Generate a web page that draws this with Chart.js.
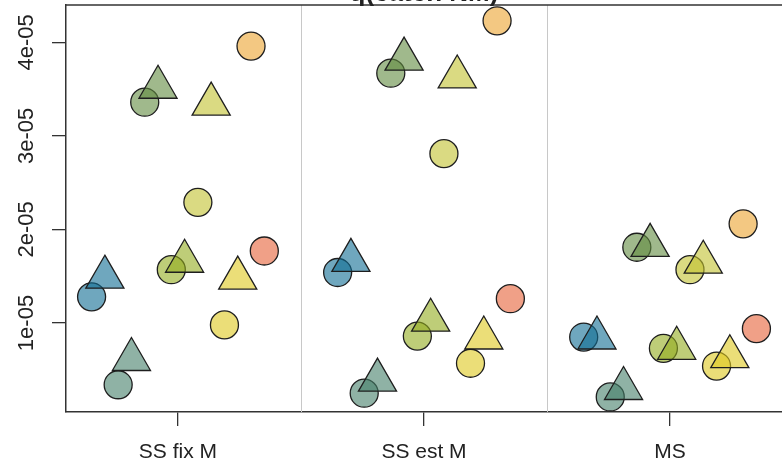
<!DOCTYPE html>
<html>
<head>
<meta charset="utf-8">
<script src="https://cdn.jsdelivr.net/npm/chart.js@4/dist/chart.umd.min.js"></script>
<style>
  html, body { margin: 0; padding: 0; background: #fff; }
  #wrap { width: 782px; height: 469px; }
</style>
</head>
<body>
<div id="wrap"><canvas id="chart" width="782" height="469"></canvas></div>
<script>
// categories and tick labels
const groups = ["SS fix M", "SS est M", "MS"];
const yTicks = [1e-5, 2e-5, 3e-5, 4e-5];
const yTickLabels = ["1e-05", "2e-05", "3e-05", "4e-05"];
const titleText = "q(catch NM)";

// values per group (SS fix M, SS est M, MS)
const blueCircle     = [1.28e-5, 1.54e-5, 0.85e-5];
const blueTriangle   = [1.49e-5, 1.67e-5, 0.84e-5];
const tealCircle     = [0.34e-5, 0.25e-5, 0.21e-5];
const tealTriangle   = [0.61e-5, 0.39e-5, 0.30e-5];
const greenCircle    = [3.36e-5, 3.67e-5, 1.81e-5];
const greenTriangle  = [3.52e-5, 3.82e-5, 1.83e-5];
const oliveCircle    = [1.57e-5, 0.86e-5, 0.73e-5];
const oliveTriangle  = [1.66e-5, 1.03e-5, 0.73e-5];
const limeCircle     = [2.29e-5, 2.81e-5, 1.57e-5];
const limeTriangle   = [3.34e-5, 3.63e-5, 1.65e-5];
const yellowCircle   = [0.98e-5, 0.57e-5, 0.54e-5];
const yellowTriangle = [1.48e-5, 0.84e-5, 0.64e-5];
const orangeCircle   = [3.96e-5, 4.23e-5, 2.06e-5];
const salmonCircle   = [1.77e-5, 1.26e-5, 0.94e-5];

// series: values, marker, colour; slot = horizontal dodge position inside a group
const series = [
    { name: "blue c",   values: blueCircle,     shape: "circle",   rgb: "15,108,147", slot: 0 },
    { name: "blue t",   values: blueTriangle,   shape: "triangle", rgb: "15,108,147", slot: 1 },
    { name: "teal c",   values: tealCircle,     shape: "circle",   rgb: "68,127,105", slot: 2 },
    { name: "teal t",   values: tealTriangle,   shape: "triangle", rgb: "68,127,105", slot: 3 },
    { name: "green c",  values: greenCircle,    shape: "circle",   rgb: "97,138,63",  slot: 4 },
    { name: "green t",  values: greenTriangle,  shape: "triangle", rgb: "97,138,63",  slot: 5 },
    { name: "olive c",  values: oliveCircle,    shape: "circle",   rgb: "147,172,30", slot: 6 },
    { name: "olive t",  values: oliveTriangle,  shape: "triangle", rgb: "147,172,30", slot: 7 },
    { name: "lime c",   values: limeCircle,     shape: "circle",   rgb: "193,193,47", slot: 8 },
    { name: "lime t",   values: limeTriangle,   shape: "triangle", rgb: "193,193,47", slot: 9 },
    { name: "yellow c", values: yellowCircle,   shape: "circle",   rgb: "222,200,30", slot: 10 },
    { name: "yellow t", values: yellowTriangle, shape: "triangle", rgb: "222,200,30", slot: 11 },
    { name: "orange c", values: orangeCircle,   shape: "circle",   rgb: "235,163,47", slot: 12 },
    { name: "salmon c", values: salmonCircle,   shape: "circle",   rgb: "230,97,55",  slot: 13 }
];

const dodge = 0.054;
const axisColor = "#333";
const textColor = "#222";
const font = "'Liberation Sans', Arial, sans-serif";

function makeDataset(s) {
    return {
        label: s.name,
        data: s.values.map((v, i) => ({ x: i + 1 + (s.slot - 6.5) * dodge, y: v })),
        pointStyle: s.shape,
        pointRadius: s.shape === "triangle" ? 22 : 14,
        backgroundColor: "rgba(" + s.rgb + ",0.6)",
        borderColor: "#1e1e1e",
        borderWidth: 1.3,
        showLine: false
    };
}

// first dataset is drawn on top in Chart.js, so triangles go first
const datasets = series.filter(s => s.shape === "triangle").map(makeDataset)
    .concat(series.filter(s => s.shape === "circle").map(makeDataset));

const framePlugin = {
    id: "frame",
    beforeDatasetsDraw(chart) {
        const { ctx, chartArea, scales } = chart;
        ctx.save();
        ctx.strokeStyle = "#c8c8c8";
        ctx.lineWidth = 1;
        [1.5, 2.5].forEach(v => {
            const x = Math.round(scales.x.getPixelForValue(v)) + 0.5;
            ctx.beginPath();
            ctx.moveTo(x, chartArea.top);
            ctx.lineTo(x, chartArea.bottom);
            ctx.stroke();
        });
        ctx.restore();
    },
    afterDraw(chart) {
        const { ctx, chartArea, scales } = chart;
        ctx.save();
        // top edge of the box
        ctx.strokeStyle = axisColor;
        ctx.lineWidth = 1.5;
        ctx.beginPath();
        ctx.moveTo(chartArea.left, chartArea.top);
        ctx.lineTo(chartArea.right, chartArea.top);
        ctx.stroke();

        // vertical y tick labels
        ctx.fillStyle = textColor;
        ctx.font = "22px " + font;
        ctx.textAlign = "center";
        ctx.textBaseline = "alphabetic";
        yTicks.forEach((v, i) => {
            const y = scales.y.getPixelForValue(v);
            ctx.save();
            ctx.translate(33, y);
            ctx.rotate(-Math.PI / 2);
            ctx.fillText(yTickLabels[i], 0, 0);
            ctx.restore();
        });

        // title, mostly above the top of the picture
        ctx.font = "bold 26px " + font;
        ctx.textAlign = "center";
        ctx.fillText(titleText, (chartArea.left + chartArea.right) / 2, 1);
        ctx.restore();
    }
};

new Chart(document.getElementById("chart"), {
    type: "scatter",
    data: { datasets: datasets },
    options: {
        responsive: false,
        animation: false,
        devicePixelRatio: 1,
        layout: { autoPadding: false, padding: { top: 5, left: 0, right: 0, bottom: 0 } },
        plugins: { legend: { display: false }, tooltip: { enabled: false } },
        scales: {
            x: {
                type: "linear",
                min: 0.545,
                max: 3.455,
                afterBuildTicks: scale => { scale.ticks = groups.map((g, i) => ({ value: i + 1 })); },
                afterFit: scale => { scale.height = 57; },
                grid: { drawOnChartArea: false, drawTicks: true, tickLength: 14, color: axisColor, lineWidth: 1.3 },
                border: { display: true, color: axisColor, width: 1.5 },
                ticks: {
                    padding: 14,
                    color: textColor,
                    font: { family: font, size: 21 },
                    maxRotation: 0,
                    callback: v => groups[Math.round(v) - 1]
                }
            },
            y: {
                type: "linear",
                min: 0.049e-5,
                max: 4.399e-5,
                afterBuildTicks: scale => { scale.ticks = yTicks.map(v => ({ value: v })); },
                afterFit: scale => { scale.width = 66; },
                grid: { drawOnChartArea: false, drawTicks: true, tickLength: 14, color: axisColor, lineWidth: 1.3 },
                border: { display: true, color: axisColor, width: 1.5 },
                ticks: { display: false }
            }
        }
    },
    plugins: [framePlugin]
});
</script>
</body>
</html>
